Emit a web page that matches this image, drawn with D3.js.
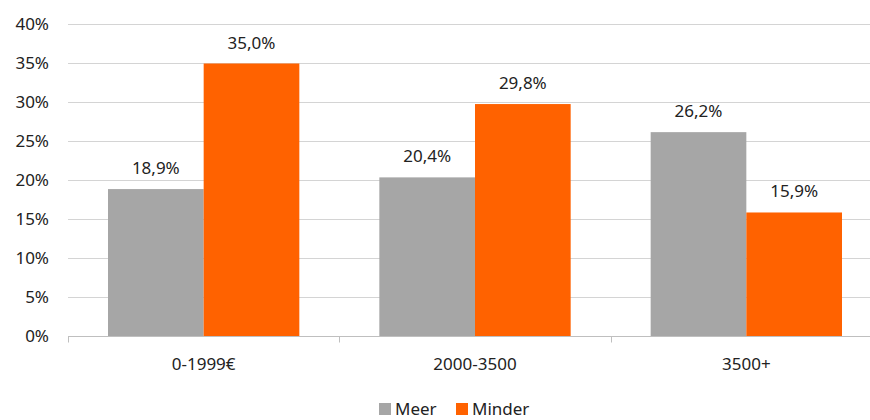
<!DOCTYPE html>
<html>
<head>
<meta charset="utf-8">
<script src="https://cdn.jsdelivr.net/npm/d3@7"></script>
<style>
  html, body { margin: 0; padding: 0; background: #fff; }
  svg { display: block; font-family: "Noto Sans", "Open Sans", sans-serif; }
</style>
</head>
<body>
<svg id="chart" width="870" height="420"></svg>
<script>
// Income groups and the share answering each option
const categories = ["0-1999€", "2000-3500", "3500+"];
const seriesNames = ["Meer", "Minder"];
const meer = [18.9, 20.4, 26.2];
const minder = [35.0, 29.8, 15.9];
const yTicks = [0, 5, 10, 15, 20, 25, 30, 35, 40];

const colors = { Meer: "#A6A6A6", Minder: "#FF6200" };
const rows = categories.map((c, i) => ({ cat: c, Meer: meer[i], Minder: minder[i] }));

const svg = d3.select("#chart");
const W = 870, H = 420;
const plotLeft = 68, plotRight = 882, plotTop = 24.5, plotBottom = 336.5;
const fontSize = 17;

const x = d3.scaleBand().domain(categories).range([plotLeft, plotRight]);
const groupGap = 40;
const xs = d3.scaleBand().domain(seriesNames).range([groupGap, x.bandwidth() - groupGap]);
const y = d3.scaleLinear().domain([0, 40]).range([plotBottom, plotTop]);

// Horizontal gridlines
svg.append("g").selectAll("line").data(yTicks.filter(d => d > 0)).join("line")
  .attr("x1", plotLeft).attr("x2", W)
  .attr("y1", d => y(d)).attr("y2", d => y(d))
  .attr("stroke", "#d4d4d4").attr("stroke-width", 1);

// Y axis labels
svg.append("g").selectAll("text").data(yTicks).join("text")
  .attr("x", 49).attr("y", d => y(d)).attr("dy", "0.35em")
  .attr("text-anchor", "end").attr("font-size", fontSize).attr("fill", "#222")
  .text(d => d + "%");

// Bars
const groups = svg.append("g").selectAll("g").data(rows).join("g")
  .attr("transform", d => `translate(${x(d.cat)},0)`);
groups.selectAll("rect").data(d => seriesNames.map(k => ({ key: k, value: d[k] }))).join("rect")
  .attr("x", d => xs(d.key)).attr("width", xs.bandwidth())
  .attr("y", d => y(d.value)).attr("height", d => y(0) - y(d.value))
  .attr("fill", d => colors[d.key]);

// Value labels
groups.selectAll("text").data(d => seriesNames.map(k => ({ key: k, value: d[k] }))).join("text")
  .attr("x", d => xs(d.key) + xs.bandwidth() / 2)
  .attr("y", d => y(d.value) - 15)
  .attr("text-anchor", "middle").attr("font-size", fontSize).attr("fill", "#222")
  .text(d => d.value.toFixed(1).replace(".", ",") + "%");

// X axis line and category ticks
const axisY = y(0);
svg.append("line").attr("x1", plotLeft).attr("x2", W)
  .attr("y1", axisY).attr("y2", axisY).attr("stroke", "#bfbfbf");
const tickXs = categories.map(c => x(c)).concat([x(categories[2]) + x.bandwidth()]);
svg.append("g").selectAll("line").data(tickXs).join("line")
  .attr("x1", d => Math.round(d) + 0.5).attr("x2", d => Math.round(d) + 0.5)
  .attr("y1", axisY).attr("y2", axisY + 6).attr("stroke", "#bfbfbf");

svg.append("g").selectAll("text").data(categories).join("text")
  .attr("x", d => x(d) + x.bandwidth() / 2).attr("y", 370)
  .attr("text-anchor", "middle").attr("font-size", fontSize).attr("fill", "#222")
  .text(d => d);

// Legend
const legend = svg.append("g");
const legendItems = [{ k: "Meer", x: 379 }, { k: "Minder", x: 456 }];
legendItems.forEach(it => {
  legend.append("rect").attr("x", it.x).attr("y", 403).attr("width", 12).attr("height", 12)
    .attr("fill", colors[it.k]);
  legend.append("text").attr("x", it.x + 16).attr("y", 415)
    .attr("font-size", fontSize).attr("fill", "#222").text(it.k);
});
</script>
</body>
</html>
